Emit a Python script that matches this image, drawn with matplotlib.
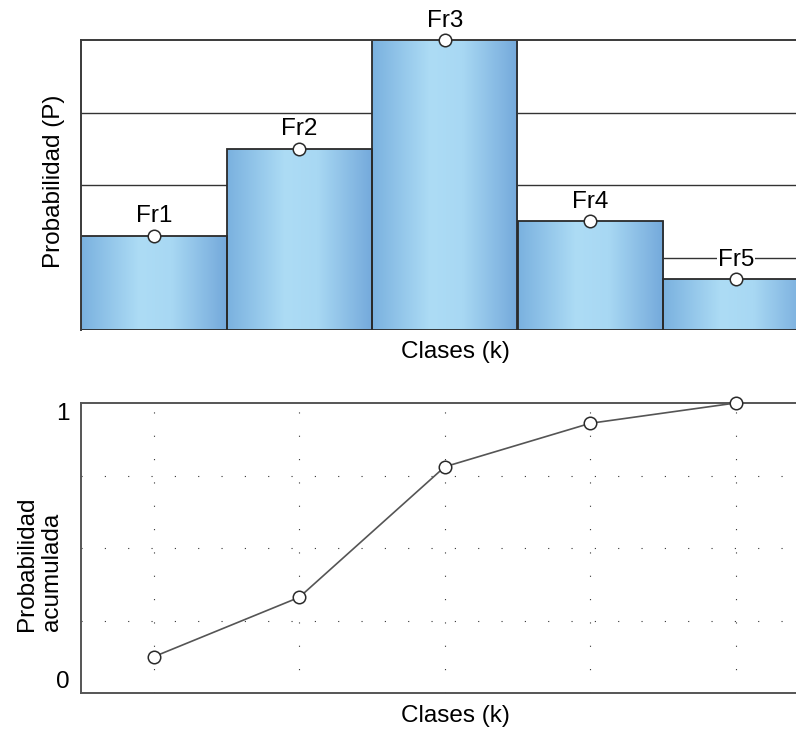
import numpy as np
import matplotlib
matplotlib.use("Agg")
import matplotlib.pyplot as plt
from matplotlib.colors import LinearSegmentedColormap

plt.rcParams["font.family"] = ["Liberation Sans", "DejaVu Sans"]

# datos
clases = ["Fr1", "Fr2", "Fr3", "Fr4", "Fr5"]
prob = [0.13, 0.25, 0.40, 0.15, 0.07]
prob_acum = [0.125, 0.33, 0.78, 0.93, 1.0]

FS = 17.5
EDGE = "#3a3a3a"
W, H = 796, 729

fig = plt.figure(figsize=(W / 100, H / 100), dpi=100)
x = np.arange(len(clases))
xmax = -0.5 + 715 / 145.5

# --- panel superior: histograma de probabilidad ---
ax1 = fig.add_axes([81 / W, (H - 330) / H, 715 / W, 290 / H])
for yv in [0.1, 0.2, 0.3]:
    ax1.axhline(yv, color="#333333", lw=1.0, zorder=0)

grad = LinearSegmentedColormap.from_list(
    "barra", [(0.0, "#7ab1df"), (0.4, "#addcf5"), (0.62, "#a8d8f3"), (1.0, "#74a9db")])
bars = ax1.bar(x, prob, width=1.0, color="none", edgecolor="#2a2a2a", lw=1.3, zorder=2)
g = np.linspace(0, 1, 256).reshape(1, -1)
for b in bars:
    bx, by = b.get_x(), b.get_y()
    im = ax1.imshow(g, cmap=grad, aspect="auto", zorder=1,
                    extent=[bx, bx + b.get_width(), by, by + b.get_height()])
    im.set_clip_path(b)
ax1.set_xlim(-0.5, xmax)
ax1.set_ylim(0, 0.4)

ax1.plot(x, prob, ls="none", marker="o", ms=9, mfc="white", mec="#2a2a2a", mew=1.1,
         zorder=5, clip_on=False)
for xi, yi, lab in zip(x, prob, clases):
    t = ax1.annotate(lab, (xi, yi), xytext=(0, 6), textcoords="offset points",
                     ha="center", va="bottom", fontsize=FS, zorder=4,
                     annotation_clip=False)
    if lab == "Fr5":
        t.set_bbox(dict(facecolor="white", edgecolor="none", pad=0.5))

for s in ["right", "bottom"]:
    ax1.spines[s].set_visible(False)
for s in ["left", "top"]:
    ax1.spines[s].set_color(EDGE)
    ax1.spines[s].set_linewidth(1.4)
ax1.set_xticks([])
ax1.set_yticks([])
ax1.set_ylabel("Probabilidad (P)", fontsize=FS)
ax1.yaxis.set_label_coords((65 - 81) / 715, (330 - 181) / 290)
fig.text(455 / W, 1 - 352 / H, "Clases (k)", ha="center", va="center", fontsize=FS)

# --- panel inferior: probabilidad acumulada ---
ax2 = fig.add_axes([81 / W, 36 / H, 715 / W, 290 / H])
ax2.set_xlim(-0.5, xmax)
ax2.set_ylim(0, 1)
for yv in [0.25, 0.5, 0.75]:
    ax2.axhline(yv, color="#333333", lw=0.8, ls=(0, (1, 20)), zorder=0)
for xi in x:
    ax2.axvline(xi, color="#333333", lw=0.8, ls=(0, (1, 20)), zorder=0)
ax2.plot(x, prob_acum, color="#555555", lw=1.2, marker="o", ms=9, mfc="white",
         mec="#2a2a2a", mew=1.1, zorder=3, clip_on=False)
ax2.spines["right"].set_visible(False)
for s in ["left", "top", "bottom"]:
    ax2.spines[s].set_color("#555555")
    ax2.spines[s].set_linewidth(1.4)
ax2.set_xticks([])
ax2.set_yticks([0, 1], ["0", "1"])
ax2.tick_params(axis="y", length=0, labelsize=FS, pad=8)
tl = ax2.get_yticklabels()
tl[0].set_verticalalignment("bottom")
tl[1].set_verticalalignment("top")
ax2.set_ylabel("Probabilidad\nacumulada", fontsize=FS, linespacing=1.15,
               multialignment="left")
ax2.yaxis.set_label_coords((63 - 81) / 715, (693 - 564) / 290)
fig.text(455 / W, 1 - 716 / H, "Clases (k)", ha="center", va="center", fontsize=FS)

fig.savefig("out.png", dpi=100, facecolor="white")
